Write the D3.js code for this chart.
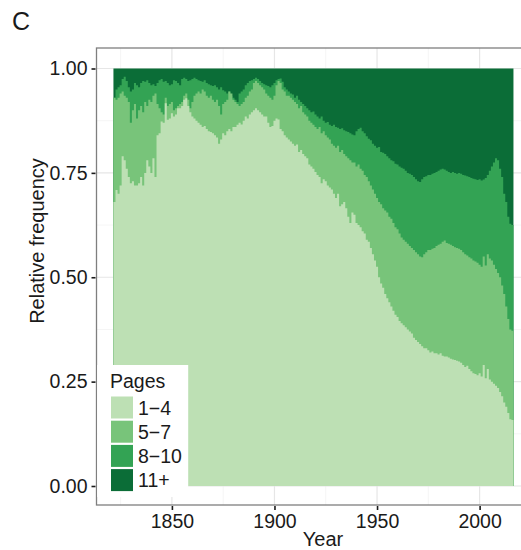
<!DOCTYPE html>
<html>
<head>
<meta charset="utf-8">
<script src="https://cdn.jsdelivr.net/npm/d3@7"></script>
<style>
  body { margin: 0; background: #fff; }
  text { font-family: "Liberation Sans", Arial, sans-serif; fill: #1a1a1a; }
</style>
</head>
<body>
<script>
// one bar per year, 1822 - 2016
var years = d3.range(1822, 2017);

// cumulative share of articles with at most 4 / 7 / 10 pages
var upTo4 = [
  0.68, 0.709, 0.70, 0.72, 0.79, 0.78, 0.76, 0.74,
  0.725, 0.73, 0.72, 0.72, 0.725, 0.74, 0.72, 0.75, 0.78, 0.765,
  0.75, 0.785, 0.74, 0.84, 0.845, 0.873, 0.87, 0.917, 0.877, 0.88,
  0.893, 0.885, 0.89, 0.905, 0.905, 0.91, 0.925, 0.929, 0.91, 0.895,
  0.885, 0.88, 0.875, 0.87, 0.865, 0.86, 0.862, 0.855, 0.85, 0.848,
  0.845, 0.84, 0.835, 0.82, 0.83, 0.845, 0.84, 0.85, 0.855, 0.85,
  0.86, 0.86, 0.865, 0.87, 0.866, 0.875, 0.885, 0.88, 0.89, 0.895,
  0.90, 0.905, 0.90, 0.895, 0.89, 0.885, 0.885, 0.87, 0.86, 0.862,
  0.875, 0.88, 0.878, 0.855, 0.85, 0.84, 0.835, 0.83, 0.825, 0.82,
  0.815, 0.818, 0.80, 0.805, 0.795, 0.79, 0.785, 0.77, 0.765, 0.76,
  0.752, 0.745, 0.74, 0.725, 0.735, 0.73, 0.72, 0.715, 0.71, 0.70,
  0.69, 0.70, 0.67, 0.675, 0.68, 0.665, 0.645, 0.63, 0.655, 0.65,
  0.63, 0.625, 0.62, 0.61, 0.605, 0.59, 0.585, 0.57, 0.555, 0.54,
  0.525, 0.50, 0.485, 0.475, 0.46, 0.45, 0.44, 0.43, 0.42, 0.41,
  0.405, 0.395, 0.39, 0.385, 0.38, 0.375, 0.37, 0.365, 0.355, 0.35,
  0.345, 0.34, 0.335, 0.33, 0.33, 0.325, 0.32, 0.322, 0.318, 0.318,
  0.315, 0.318, 0.312, 0.31, 0.31, 0.308, 0.305, 0.303, 0.302, 0.30,
  0.298, 0.295, 0.29, 0.285, 0.288, 0.28, 0.275, 0.27, 0.268, 0.265,
  0.27, 0.262, 0.29, 0.258, 0.28, 0.255, 0.25, 0.245, 0.24, 0.235,
  0.225, 0.215, 0.20, 0.19, 0.175, 0.16, 0.158
];
var upTo7 = [
  0.93, 0.925, 0.93, 0.94, 0.945, 0.935, 0.93, 0.92,
  0.87, 0.90, 0.915, 0.88, 0.90, 0.91, 0.895, 0.92, 0.91, 0.925,
  0.92, 0.935, 0.94, 0.915, 0.905, 0.895, 0.89, 0.93, 0.91, 0.915,
  0.92, 0.90, 0.905, 0.91, 0.915, 0.92, 0.935, 0.94, 0.925, 0.905,
  0.92, 0.935, 0.94, 0.945, 0.94, 0.95, 0.945, 0.935, 0.93, 0.935,
  0.925, 0.92, 0.925, 0.91, 0.89, 0.915, 0.92, 0.925, 0.945, 0.94,
  0.925, 0.92, 0.915, 0.91, 0.915, 0.92, 0.93, 0.935, 0.945, 0.95,
  0.965, 0.97, 0.965, 0.96, 0.955, 0.95, 0.94, 0.935, 0.93, 0.925,
  0.935, 0.96, 0.97, 0.965, 0.95, 0.945, 0.935, 0.935, 0.93, 0.925,
  0.92, 0.915, 0.905, 0.91, 0.895, 0.89, 0.885, 0.875, 0.87, 0.865,
  0.86, 0.855, 0.86, 0.845, 0.85, 0.84, 0.835, 0.83, 0.82, 0.815,
  0.81, 0.815, 0.80, 0.805, 0.795, 0.79, 0.785, 0.78, 0.775, 0.775,
  0.765, 0.77, 0.76, 0.755, 0.745, 0.74, 0.73, 0.72, 0.71, 0.70,
  0.69, 0.68, 0.675, 0.665, 0.66, 0.655, 0.645, 0.64, 0.63, 0.62,
  0.615, 0.605, 0.595, 0.59, 0.585, 0.58, 0.575, 0.57, 0.565, 0.56,
  0.555, 0.55, 0.548, 0.555, 0.56, 0.565, 0.565, 0.568, 0.57, 0.575,
  0.578, 0.58, 0.585, 0.588, 0.582, 0.58, 0.578, 0.575, 0.572, 0.57,
  0.568, 0.565, 0.56, 0.555, 0.552, 0.548, 0.545, 0.54, 0.538, 0.535,
  0.53, 0.525, 0.55, 0.528, 0.555, 0.545, 0.54, 0.53, 0.52, 0.51,
  0.50, 0.48, 0.46, 0.43, 0.40, 0.375, 0.372
];
var upTo10 = [
  0.93, 0.95, 0.955, 0.96, 0.975, 0.98, 0.97, 0.955,
  0.945, 0.95, 0.965, 0.96, 0.955, 0.965, 0.97, 0.968, 0.972, 0.965,
  0.96, 0.962, 0.958, 0.965, 0.972, 0.975, 0.968, 0.97, 0.965, 0.96,
  0.962, 0.972, 0.97, 0.965, 0.96, 0.975, 0.978, 0.975, 0.97, 0.972,
  0.975, 0.978, 0.975, 0.972, 0.97, 0.968, 0.972, 0.965, 0.962, 0.96,
  0.958, 0.96, 0.955, 0.95, 0.955, 0.948, 0.945, 0.94, 0.945, 0.935,
  0.93, 0.925, 0.92, 0.94, 0.945, 0.95, 0.96, 0.965, 0.97, 0.972,
  0.975, 0.978, 0.975, 0.97, 0.965, 0.962, 0.96, 0.958, 0.955, 0.96,
  0.965, 0.972, 0.975, 0.976, 0.968, 0.955, 0.95, 0.945, 0.94, 0.938,
  0.93, 0.935, 0.925, 0.92, 0.915, 0.91, 0.905, 0.90, 0.895, 0.897,
  0.89, 0.885, 0.88, 0.885, 0.875, 0.87, 0.872, 0.865, 0.862, 0.865,
  0.86, 0.858, 0.855, 0.857, 0.852, 0.85, 0.848, 0.845, 0.842, 0.84,
  0.85, 0.855, 0.858, 0.85, 0.845, 0.838, 0.832, 0.828, 0.82, 0.815,
  0.81, 0.812, 0.80, 0.798, 0.795, 0.79, 0.785, 0.78, 0.778, 0.772,
  0.77, 0.765, 0.762, 0.76, 0.755, 0.75, 0.748, 0.745, 0.74, 0.735,
  0.73, 0.728, 0.735, 0.74, 0.742, 0.745, 0.745, 0.748, 0.75, 0.752,
  0.755, 0.758, 0.76, 0.758, 0.755, 0.752, 0.75, 0.752, 0.75, 0.748,
  0.75, 0.748, 0.745, 0.744, 0.742, 0.74, 0.738, 0.736, 0.735, 0.733,
  0.735, 0.732, 0.734, 0.738, 0.745, 0.755, 0.765, 0.775, 0.785, 0.78,
  0.76, 0.74, 0.70, 0.68, 0.645, 0.628, 0.625
];

var categories = ["1\u22124", "5\u22127", "8\u221210", "11+"];
var colors = ["#bde0b4", "#78c47a", "#33a354", "#0b6d37"];
var xTicks = [1850, 1900, 1950, 2000];
var xMinor = [1825, 1875, 1925, 1975, 2025];
var yTicks = [0, 0.25, 0.5, 0.75, 1];
var yMinor = [0.125, 0.375, 0.625, 0.875];

var W = 521, H = 550;
var svg = d3.select("body").append("svg")
    .attr("width", W)
    .attr("height", H);

svg.append("rect").attr("width", W).attr("height", H).attr("fill", "#fff");

var panel = { left: 96.5, top: 48, right: 540, bottom: 505 };

var x = d3.scaleLinear().domain([1813, 2027]).range([96, 535]);
var y = d3.scaleLinear().domain([0, 1]).range([486, 68.5]);

// rows of shares per category
var rows = years.map(function (yr, i) {
  var r = { year: yr };
  r[categories[0]] = upTo4[i];
  r[categories[1]] = upTo7[i] - upTo4[i];
  r[categories[2]] = upTo10[i] - upTo7[i];
  r[categories[3]] = 1 - upTo10[i];
  return r;
});
var layers = d3.stack().keys(categories)(rows);

// grid
var grid = svg.append("g");
grid.selectAll(".xminor").data(xMinor).enter().append("line")
    .attr("x1", function (d) { return x(d); }).attr("x2", function (d) { return x(d); })
    .attr("y1", panel.top).attr("y2", panel.bottom)
    .attr("stroke", "#f2f2f2").attr("stroke-width", 0.8);
grid.selectAll(".yminor").data(yMinor).enter().append("line")
    .attr("x1", panel.left).attr("x2", panel.right)
    .attr("y1", function (d) { return y(d); }).attr("y2", function (d) { return y(d); })
    .attr("stroke", "#f2f2f2").attr("stroke-width", 0.8);
grid.selectAll(".xmajor").data(xTicks).enter().append("line")
    .attr("x1", function (d) { return x(d); }).attr("x2", function (d) { return x(d); })
    .attr("y1", panel.top).attr("y2", panel.bottom)
    .attr("stroke", "#e6e6e6").attr("stroke-width", 1.2);
grid.selectAll(".ymajor").data(yTicks).enter().append("line")
    .attr("x1", panel.left).attr("x2", panel.right)
    .attr("y1", function (d) { return y(d); }).attr("y2", function (d) { return y(d); })
    .attr("stroke", "#e6e6e6").attr("stroke-width", 1.2);

// stacked yearly bars, drawn as step areas from 0 to each layer top (top layer first)
function stepPoints(layer) {
  var pts = [];
  layer.forEach(function (d) {
    pts.push({ x: d.data.year - 0.5, top: d[1] });
    pts.push({ x: d.data.year + 0.5, top: d[1] });
  });
  return pts;
}
var area = d3.area()
    .x(function (d) { return x(d.x); })
    .y0(y(0))
    .y1(function (d) { return y(d.top); });

svg.append("g").selectAll("path")
    .data(layers.slice().reverse())
    .enter().append("path")
    .attr("d", function (l) { return area(stepPoints(l)); })
    .attr("fill", function (l) { return colors[l.index]; });

// panel border
svg.append("rect")
    .attr("x", panel.left).attr("y", panel.top)
    .attr("width", panel.right - panel.left).attr("height", panel.bottom - panel.top)
    .attr("fill", "none").attr("stroke", "#7f7f7f").attr("stroke-width", 1.3);

// axes
var yAxis = d3.axisLeft(y).tickValues(yTicks).tickFormat(d3.format(".2f")).tickSize(4).tickPadding(4);
var gy = svg.append("g").attr("transform", "translate(" + (panel.left - 1) + ",0)").call(yAxis);
var xAxis = d3.axisBottom(x).tickValues(xTicks).tickFormat(d3.format("d")).tickSize(4).tickPadding(4);
var gx = svg.append("g").attr("transform", "translate(0," + (panel.bottom + 1) + ")").call(xAxis);
[gy, gx].forEach(function (g) {
  g.select(".domain").remove();
  g.selectAll(".tick line").attr("stroke", "#1a1a1a").attr("stroke-width", 1.6);
  g.selectAll(".tick text").attr("font-size", 19.5).attr("fill", "#1a1a1a");
});

// axis titles
svg.append("text")
    .attr("x", 323).attr("y", 546)
    .attr("text-anchor", "middle").attr("font-size", 20)
    .text("Year");
svg.append("text")
    .attr("transform", "translate(44,241) rotate(-90)")
    .attr("text-anchor", "middle").attr("font-size", 20)
    .text("Relative frequency");

// panel tag
svg.append("text")
    .attr("x", 12).attr("y", 30)
    .attr("font-size", 25)
    .text("C");

// legend
var legend = svg.append("g");
legend.append("rect")
    .attr("x", 97.2).attr("y", 365).attr("width", 91).attr("height", 132)
    .attr("fill", "#fff");
legend.append("text")
    .attr("x", 110).attr("y", 388)
    .attr("font-size", 19.5)
    .text("Pages");
var keys = legend.selectAll(".key").data(categories).enter().append("g")
    .attr("transform", function (d, i) { return "translate(111," + (396.5 + i * 24.2) + ")"; });
keys.append("rect")
    .attr("width", 22).attr("height", 22)
    .attr("fill", function (d, i) { return colors[i]; });
keys.append("text")
    .attr("x", 27).attr("y", 18)
    .attr("font-size", 19.5)
    .text(function (d) { return d; });
</script>
</body>
</html>
